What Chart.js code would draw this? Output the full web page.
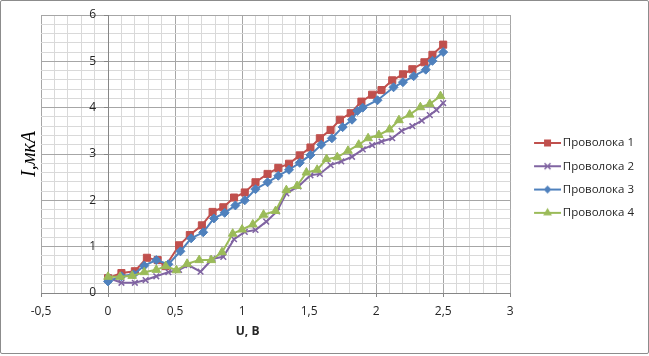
<!DOCTYPE html>
<html lang="ru">
<head>
  <meta charset="UTF-8">
  <title>Проволоки: I(U)</title>
  <script src="https://cdn.jsdelivr.net/npm/chart.js"></script>
  <style>
    body { margin: 0; background: #fff; }
    .wrap { position: relative; width: 649px; height: 356px; }
    .frame {
      position: absolute; left: 0; top: 0; width: 649px; height: 354px;
      box-sizing: border-box; border: 1px solid #8c8c8c; border-radius: 2px;
      pointer-events: none;
    }
    canvas { display: block; }
  </style>
</head>
<body>
  <div class="wrap">
    <canvas id="chart" width="649" height="356"></canvas>
    <div class="frame"></div>
  </div>

  <script>
    // Проволока 1
    const U1 = [0, 0.1, 0.2, 0.29, 0.37, 0.43, 0.53, 0.61, 0.70, 0.78, 0.86, 0.94, 1.02, 1.10, 1.19, 1.27,
                1.35, 1.43, 1.51, 1.58, 1.66, 1.73, 1.81, 1.89, 1.97, 2.04, 2.12, 2.20, 2.27, 2.36, 2.42, 2.50];
    const I1 = [0.32, 0.43, 0.47, 0.76, 0.71, 0.58, 1.03, 1.25, 1.46, 1.75, 1.85, 2.06, 2.17, 2.39, 2.57, 2.70,
                2.79, 2.97, 3.14, 3.34, 3.52, 3.74, 3.88, 4.13, 4.28, 4.38, 4.59, 4.72, 4.83, 4.98, 5.14, 5.36];
    // Проволока 2
    const U2 = [0, 0.1, 0.2, 0.28, 0.36, 0.45, 0.53, 0.60, 0.69, 0.78, 0.86, 0.94, 1.02, 1.10, 1.18, 1.26,
                1.33, 1.42, 1.51, 1.58, 1.66, 1.74, 1.82, 1.90, 1.97, 2.04, 2.12, 2.19, 2.27, 2.34, 2.40, 2.45, 2.50];
    const I2 = [0.33, 0.22, 0.22, 0.28, 0.36, 0.45, 0.50, 0.60, 0.46, 0.74, 0.78, 1.16, 1.32, 1.36, 1.54, 1.76,
                2.15, 2.30, 2.54, 2.57, 2.76, 2.84, 2.94, 3.10, 3.19, 3.27, 3.34, 3.50, 3.60, 3.72, 3.84, 3.95, 4.10];
    // Проволока 3
    const U3 = [0, 0.1, 0.19, 0.27, 0.36, 0.45, 0.54, 0.62, 0.71, 0.79, 0.87, 0.95, 1.02, 1.10, 1.19, 1.27,
                1.35, 1.43, 1.51, 1.59, 1.67, 1.75, 1.82, 1.86, 1.90, 2.01, 2.13, 2.20, 2.28, 2.37, 2.42, 2.50];
    const I3 = [0.25, 0.36, 0.40, 0.59, 0.71, 0.62, 0.90, 1.18, 1.31, 1.61, 1.73, 1.89, 2.00, 2.24, 2.39, 2.53,
                2.66, 2.81, 2.98, 3.20, 3.34, 3.58, 3.74, 3.93, 4.00, 4.16, 4.44, 4.55, 4.68, 4.82, 5.01, 5.20];
    // Проволока 4
    const U4 = [0, 0.09, 0.18, 0.27, 0.36, 0.43, 0.51, 0.59, 0.68, 0.77, 0.85, 0.93, 1.00, 1.08, 1.16, 1.25,
                1.33, 1.41, 1.48, 1.56, 1.63, 1.71, 1.79, 1.87, 1.94, 2.02, 2.10, 2.17, 2.25, 2.33, 2.40, 2.48];
    const I4 = [0.35, 0.35, 0.37, 0.45, 0.50, 0.58, 0.49, 0.63, 0.71, 0.71, 0.88, 1.28, 1.37, 1.48, 1.69, 1.77,
                2.22, 2.31, 2.60, 2.66, 2.89, 2.93, 3.07, 3.20, 3.34, 3.41, 3.53, 3.73, 3.85, 4.01, 4.08, 4.25];

    const names = ["Проволока 1", "Проволока 2", "Проволока 3", "Проволока 4"];

    const RED = "#C0504D", PURPLE = "#8064A2", BLUE = "#4F81BD", GREEN = "#9BBB59";
    const MAJOR = "#a6a6a6", MINOR = "#d9d9d9", AXIS = "#868686", TEXT = "#262626";
    const FONT = "'Open Sans', 'DejaVu Sans', sans-serif";

    const pts = (us, is) => us.map((u, i) => ({ x: u, y: is[i] }));
    const isMult = (v, s) => Math.abs(v / s - Math.round(v / s)) < 1e-6;
    const fmt = v => String(Math.round(v * 10) / 10).replace(".", ",");

    // значок легенды: линия с маркером (как в Excel)
    function icon(color, shape) {
      const c = document.createElement("canvas");
      c.width = 43; c.height = 12;
      const g = c.getContext("2d");
      g.strokeStyle = color; g.fillStyle = color; g.lineWidth = 2;
      g.beginPath(); g.moveTo(16, 6); g.lineTo(43, 6); g.stroke();
      const cx = 29.5, cy = 6;
      g.beginPath();
      if (shape === "rect") { g.rect(cx - 3.5, cy - 3.5, 7, 7); g.fill(); }
      else if (shape === "rectRot") {
        g.moveTo(cx, cy - 4); g.lineTo(cx + 4, cy); g.lineTo(cx, cy + 4); g.lineTo(cx - 4, cy);
        g.closePath(); g.fill();
      } else if (shape === "triangle") {
        g.moveTo(cx, cy - 5); g.lineTo(cx + 4.4, cy + 2.5); g.lineTo(cx - 4.4, cy + 2.5);
        g.closePath(); g.fill();
      } else {
        g.lineWidth = 1.5;
        g.moveTo(cx - 3, cy - 3); g.lineTo(cx + 3, cy + 3);
        g.moveTo(cx + 3, cy - 3); g.lineTo(cx - 3, cy + 3); g.stroke();
      }
      return c;
    }
    const icons = [icon(RED, "rect"), icon(PURPLE, "crossRot"), icon(BLUE, "rectRot"), icon(GREEN, "triangle")];

    const ctx = document.getElementById("chart").getContext("2d");
    new Chart(ctx, {
      type: "scatter",
      data: {
        datasets: [
          { label: names[0], data: pts(U1, I1), borderColor: RED, backgroundColor: RED,
            pointStyle: "rect", pointRadius: 5, order: 4 },
          { label: names[1], data: pts(U2, I2), borderColor: PURPLE, backgroundColor: PURPLE,
            pointStyle: "crossRot", pointRadius: 4, pointBorderWidth: 1.5, order: 3 },
          { label: names[2], data: pts(U3, I3), borderColor: BLUE, backgroundColor: BLUE,
            pointStyle: "rectRot", pointRadius: 4.5, order: 2 },
          { label: names[3], data: pts(U4, I4), borderColor: GREEN, backgroundColor: GREEN,
            pointStyle: "triangle", pointRadius: 5, order: 1 }
        ].map(d => Object.assign({ showLine: true, borderWidth: 2, tension: 0, pointBorderWidth: 1 }, d))
      },
      options: {
        responsive: false,
        animation: false,
        layout: { padding: { left: 0, right: 5, top: 15, bottom: 0 } },
        plugins: {
          tooltip: { enabled: false },
          legend: {
            position: "right",
            align: "start",
            maxWidth: 300,
            title: { display: true, text: " ", font: { size: 1, lineHeight: "110.4px" }, padding: 0 },
            labels: {
              font: { family: FONT, size: 11.5 },
              color: TEXT,
              usePointStyle: true,
              pointStyleWidth: 35,
              padding: 11.8,
              sort: (a, b) => a.datasetIndex - b.datasetIndex,
              generateLabels: chart => Chart.defaults.plugins.legend.labels.generateLabels(chart)
                .map(l => Object.assign(l, { pointStyle: icons[l.datasetIndex] }))
            }
          }
        },
        scales: {
          x: {
            type: "linear", min: -0.5, max: 3,
            afterFit: s => { s.height = 63; },
            grid: {
              color: c => (c.tick && isMult(c.tick.value, 0.5)) ? MAJOR : MINOR,
              tickLength: 4,
              tickColor: c => (c.tick && isMult(c.tick.value, 0.5)) ? AXIS : "rgba(0,0,0,0)"
            },
            border: { color: AXIS },
            ticks: {
              stepSize: 0.1, autoSkip: false, maxRotation: 0, padding: 7.5,
              color: TEXT, font: { family: FONT, size: 12 },
              callback: v => isMult(v, 0.5) ? fmt(v) : ""
            },
            title: {
              display: true,
              text: "U, В\u2003\u2003\u2003\u2003\u2002\u2009",
              color: TEXT,
              font: { family: FONT, size: 12, weight: "bold" },
              padding: { top: 0, bottom: 17 }
            }
          },
          y: {
            type: "linear", min: 0, max: 6,
            position: { x: 0 },
            afterFit: s => { s.width = 0; },
            grid: {
              color: c => (c.tick && isMult(c.tick.value, 1)) ? MAJOR : MINOR,
              tickLength: 4,
              tickColor: c => (c.tick && isMult(c.tick.value, 1)) ? AXIS : "rgba(0,0,0,0)"
            },
            border: { color: AXIS },
            ticks: {
              stepSize: 0.2, autoSkip: false, padding: 0,
              color: TEXT, font: { family: FONT, size: 12 },
              callback: v => isMult(v, 1) ? Math.round(v) + "\u2002\u2002" : ""
            }
          },
          yTitle: {
            type: "linear", position: "left", display: true,
            afterFit: s => { s.width = 41; },
            grid: { display: false, drawTicks: false },
            border: { display: false },
            ticks: { display: false },
            title: {
              display: true,
              text: "I,мкА",
              color: "#000",
              font: { family: "'Liberation Serif', 'DejaVu Serif', serif", size: 20, style: "italic" },
              padding: { top: 18, bottom: 0 }
            }
          }
        }
      }
    });
  </script>
</body>
</html>
